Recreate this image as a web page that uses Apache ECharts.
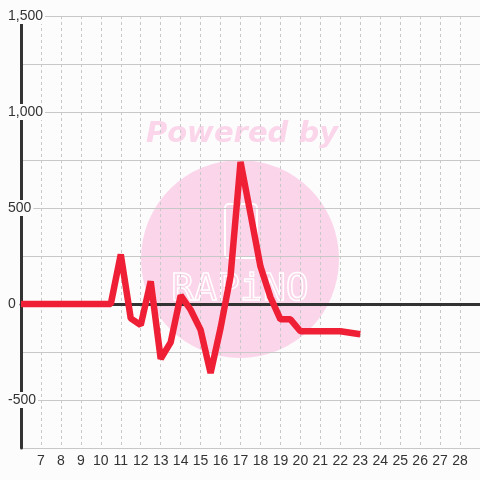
<!DOCTYPE html>
<html>
<head>
<meta charset="utf-8">
<script src="https://cdn.jsdelivr.net/npm/echarts@6/dist/echarts.min.js"></script>
<style>
  html, body { margin: 0; padding: 0; background: #fcfcfc; }
  #main { width: 480px; height: 480px; }
</style>
</head>
<body>
<div id="main"></div>
<script>
// x positions (half steps) and line values
const xValues = [6, 6.5, 7, 7.5, 8, 8.5, 9, 9.5, 10, 10.5, 11, 11.5, 12, 12.5, 13, 13.5, 14, 14.5,
  15, 15.5, 16, 16.5, 17, 17.5, 18, 18.5, 19, 19.5, 20, 20.5, 21, 21.5, 22, 22.5, 23]
const yValues = [0, 0, 0, 0, 0, 0, 0, 0, 0, 0, 258, -75, -110, 118, -285, -200, 45, -30,
  -135, -360, -125, 145, 740, 470, 195, 35, -80, -80, -142, -142, -142, -142, -142, -150, -158]
const yLabelValues = [1500, 1000, 500, 0, -500]

const lineData = xValues.map((x, i) => [x, yValues[i]])

function addCommas(v) {
  const s = String(Math.abs(v)).replace(/\B(?=(\d{3})+(?!\d))/g, ',')
  return (v < 0 ? '-' : '') + s
}

const chart = echarts.init(document.getElementById('main'))

const option = {
  backgroundColor: '#fcfcfc',
  animation: false,
  textStyle: { fontFamily: 'Liberation Sans' },
  grid: { left: 21, right: -1, top: 16, bottom: 32 },
  graphic: [
    {
      type: 'circle', z: -5, silent: true,
      shape: { cx: 240, cy: 259, r: 99 },
      style: { fill: '#fbd5ea' }
    },
    {
      type: 'text', z: -5, silent: true,
      x: 242, y: 134,
      style: {
        text: 'Powered by', fill: '#fbd5ea', align: 'center', verticalAlign: 'middle',
        font: 'italic bold 29px "DejaVu Sans"'
      }
    },
    {
      type: 'rect', z: -4, silent: true,
      shape: { x: 225, y: 204, width: 32, height: 54, r: 4 },
      style: { fill: 'none', stroke: '#ffffff', lineWidth: 2 }
    },
    {
      type: 'text', z: -4, silent: true,
      x: 240, y: 290,
      style: {
        text: 'RAPiNO', fill: 'none', stroke: '#ffffff', lineWidth: 1.5,
        align: 'center', verticalAlign: 'middle',
        font: '38px "DejaVu Sans Mono"'
      }
    }
  ],
  xAxis: [
    {
      type: 'value',
      min: 6,
      max: 29,
      interval: 1,
      axisLine: { show: false, onZero: false },
      axisTick: { show: false },
      axisLabel: {
        fontSize: 14, color: '#333', margin: 6,
        showMinLabel: false, showMaxLabel: false
      },
      splitLine: { show: true, lineStyle: { color: '#c8c8c8', type: [3, 3], width: 1 } }
    },
    {
      type: 'value',
      min: 6,
      max: 29,
      interval: 1,
      axisLine: { show: true, onZero: true, lineStyle: { color: '#333', width: 3 } },
      axisTick: { show: false },
      axisLabel: { show: false },
      splitLine: { show: false }
    }
  ],
  yAxis: {
    type: 'value',
    min: -750,
    max: 1500,
    interval: 250,
    axisLine: { show: true, lineStyle: { color: '#333', width: 3 } },
    axisTick: { show: false },
    axisLabel: {
      fontSize: 14,
      color: '#333',
      align: 'left',
      margin: 15,
      backgroundColor: '#fcfcfc',
      padding: [1, 2, 1, 2],
      formatter: (v) => yLabelValues.indexOf(v) >= 0 ? addCommas(v) : ''
    },
    splitLine: { show: true, lineStyle: { color: '#c8c8c8', width: 1 } }
  },
  series: [
    {
      type: 'line',
      xAxisIndex: 0,
      data: lineData,
      showSymbol: false,
      symbol: 'none',
      lineStyle: { color: '#ef2036', width: 6.5, join: 'bevel' },
      z: 5
    }
  ]
}

chart.setOption(option)
</script>
</body>
</html>
